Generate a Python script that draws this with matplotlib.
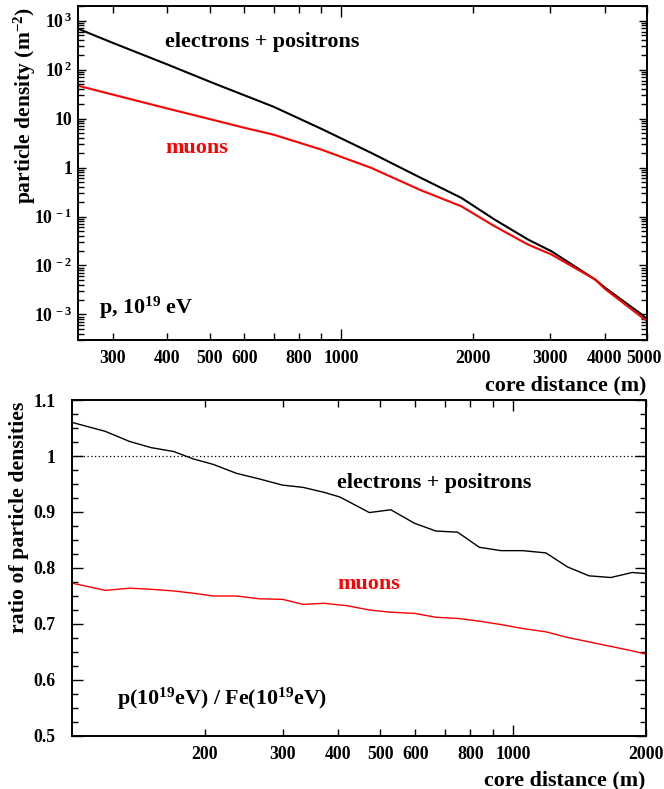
import numpy as np
import matplotlib
matplotlib.use("Agg")
import matplotlib.pyplot as plt
import matplotlib.transforms as mtransforms
from matplotlib.ticker import FixedLocator, FuncFormatter, NullFormatter, LogLocator, MultipleLocator

plt.rcParams['font.family'] = ['Liberation Serif', 'DejaVu Serif']
plt.rcParams['font.weight'] = 'bold'
plt.rcParams['mathtext.fontset'] = 'custom'
plt.rcParams['mathtext.rm'] = 'Liberation Serif:bold'
plt.rcParams['mathtext.it'] = 'Liberation Serif:bold'
plt.rcParams['mathtext.bf'] = 'Liberation Serif:bold'

# top panel: lateral density, p 10^19 eV
dist_top = [250, 300, 400, 500, 600, 700, 900, 1170, 1520, 1880, 2240, 2670, 3020, 3800, 4010, 4860, 5000]
dens_em = [687, 354, 128, 57, 30, 17.5, 6.2, 2.0, 0.616, 0.241, 0.087, 0.034, 0.0196, 0.0052,
           0.0035, 0.001, 7.9e-4]
dens_mu = [47, 31, 16.1, 9.8, 6.5, 4.7, 2.33, 0.986, 0.344, 0.162, 0.0634, 0.0268, 0.0168, 0.0052,
           0.0033, 8.8e-4, 7.3e-4]

# bottom panel: ratio p / Fe
dist_bot = [100, 119, 135, 151, 170, 188, 209, 236, 266, 300, 334, 373, 404, 418, 472, 528,
            597, 668, 748, 838, 938, 1050, 1186, 1327, 1486, 1664, 1862, 2000]
ratio_em = [1.060, 1.044, 1.026, 1.015, 1.008, 0.995, 0.985, 0.969, 0.959, 0.948, 0.944, 0.935,
            0.927, 0.921, 0.899, 0.904, 0.880, 0.866, 0.864, 0.837, 0.831, 0.831, 0.827, 0.802,
            0.786, 0.783, 0.792, 0.790]
ratio_mu = [0.773, 0.760, 0.764, 0.762, 0.759, 0.755, 0.750, 0.750, 0.745, 0.744, 0.735, 0.737,
            0.734, 0.733, 0.725, 0.721, 0.719, 0.712, 0.710, 0.705, 0.699, 0.692, 0.686, 0.676,
            0.668, 0.660, 0.652, 0.646]

top_minor = [300, 400, 500, 600, 700, 800, 900, 2000, 3000, 4000, 5000]
top_labels = {300: '300', 400: '400', 500: '500', 600: '600', 800: '800',
              2000: '2000', 3000: '3000', 4000: '4000', 5000: '5000'}
bot_minor = [200, 300, 400, 500, 600, 700, 800, 900, 2000]
bot_labels = {200: '200', 300: '300', 400: '400', 500: '500', 600: '600', 800: '800', 2000: '2000'}
dec_ticks = [1e-3, 1e-2, 1e-1, 1, 10, 100, 1000]
dec_labels = [r'$10^{\,-3}$', r'$10^{\,-2}$', r'$10^{\,-1}$', '1', '10', r'$10^{\,2}$', r'$10^{\,3}$']

FS = 12.8
TFS = 15.8
fig = plt.figure(figsize=(6.64, 7.89), dpi=100)
ax1 = fig.add_axes([78/664, 1-340/789, 569/664, 334/789])
ax2 = fig.add_axes([72/664, 1-736/789, 574/664, 336/789])

ax1.plot(dist_top, dens_em, color='black', lw=1.5)
ax1.plot(dist_top, dens_mu, color='red', lw=1.5)
ax1.set_xscale('log')
ax1.set_yscale('log')
ax1.set_xlim(250, 5000)
ax1.set_ylim(3e-4, 2e3)
ax1.set_yticks(dec_ticks, dec_labels)
ax1.yaxis.set_minor_locator(LogLocator(base=10, subs=np.arange(2, 10), numticks=20))
ax1.yaxis.set_minor_formatter(NullFormatter())

ax2.plot(dist_bot, ratio_em, color='black', lw=1.0)
ax2.plot(dist_bot, ratio_mu, color='red', lw=1.0)
ax2.axhline(1.0, color='black', lw=0.9, ls=(0, (1, 2)))
ax2.set_xscale('log')
ax2.set_xlim(100, 2000)
ax2.set_ylim(0.5, 1.1)
ax2.yaxis.set_major_locator(MultipleLocator(0.1))
ax2.yaxis.set_minor_locator(MultipleLocator(0.025))
ax2.yaxis.set_major_formatter(FuncFormatter(lambda v, p: '1' if abs(v-1) < 1e-6 else ('%.1f' % v)))

for ax, minors, labs in [(ax1, top_minor, top_labels), (ax2, bot_minor, bot_labels)]:
    ax.xaxis.set_major_locator(FixedLocator([1000]))
    ax.xaxis.set_major_formatter(FuncFormatter(lambda v, p: '1000'))
    ax.xaxis.set_minor_locator(FixedLocator(minors))
    ax.xaxis.set_minor_formatter(FuncFormatter(lambda v, p, labs=labs: labs.get(int(round(v)), '')))
    ax.tick_params(which='both', direction='in', top=True, right=True, labelsize=FS, width=1.0)
    ax.tick_params(which='major', length=8, pad=7)
    ax.tick_params(which='minor', length=5, pad=7)
    ax.tick_params(axis='y', which='minor', length=4)
    for s in ax.spines.values():
        s.set_linewidth(1.4)

ax1.tick_params(axis='y', which='major', length=6, pad=4)
ax2.tick_params(axis='y', which='major', pad=12)

# the last label sits at the right edge, nudge it in a little
t5000 = ax1.xaxis.get_minor_ticks()[-1]
t5000.label1.set_transform(t5000.label1.get_transform() +
                           mtransforms.ScaledTranslation(-3/100, 0, fig.dpi_scale_trans))

ax1.text(0.153, 0.892, 'electrons + positrons', transform=ax1.transAxes, fontsize=TFS,
         fontweight='bold', va='center')
ax1.text(0.153, 0.575, 'muons', transform=ax1.transAxes, fontsize=TFS, fontweight='bold',
         color='red', va='center')
ax1.text(0.037, 0.095, r'p, $10^{19}$ eV', transform=ax1.transAxes, fontsize=TFS,
         fontweight='bold', va='center')

ax2.text(0.462, 0.753, 'electrons + positrons', transform=ax2.transAxes, fontsize=TFS,
         fontweight='bold', va='center')
ax2.text(0.462, 0.452, 'muons', transform=ax2.transAxes, fontsize=TFS, fontweight='bold',
         color='red', va='center')
ax2.text(0.078, 0.11, r'p($10^{19}$eV) / Fe($10^{19}$eV)', transform=ax2.transAxes,
         fontsize=TFS, fontweight='bold', va='center')

fig.text(25/664, 1-7/789, r'particle density (m$^{-2}$)', rotation=90, ha='center', va='top',
         fontsize=15.5, fontweight='bold')
fig.text(19/664, 1-402/789, 'ratio of particle densities', rotation=90, ha='center', va='top',
         fontsize=15.7, fontweight='bold')
fig.text(646/664, 1-385/789, 'core distance (m)', ha='right', va='center', fontsize=TFS,
         fontweight='bold')
fig.text(645/664, 1-780/789, 'core distance (m)', ha='right', va='center', fontsize=TFS,
         fontweight='bold')

fig.savefig('out.png', dpi=100)
